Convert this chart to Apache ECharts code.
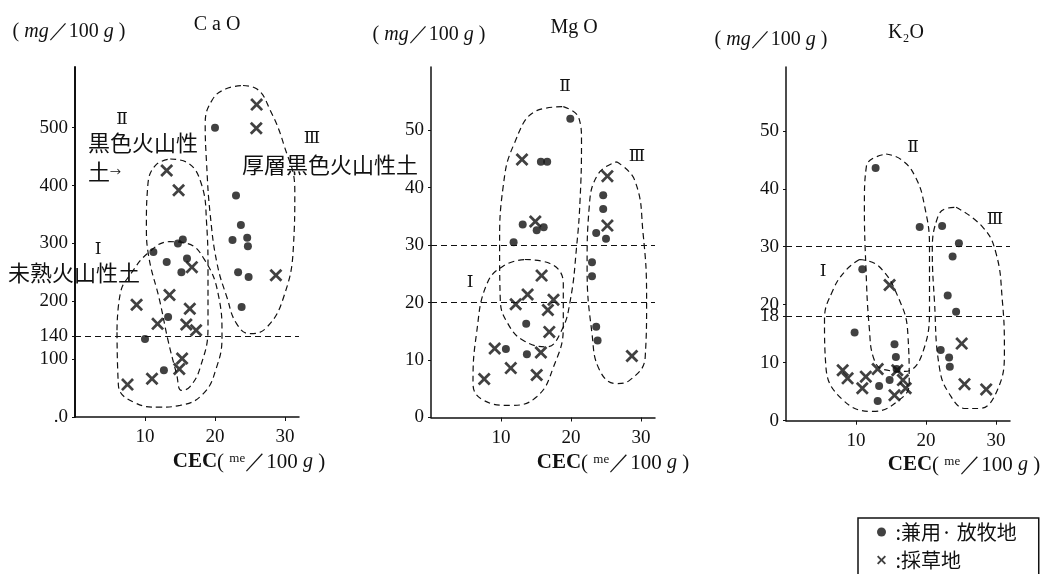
<!DOCTYPE html>
<html><head><meta charset="utf-8">
<script src="https://cdn.jsdelivr.net/npm/echarts@6/dist/echarts.min.js"></script>
<style>html,body{margin:0;padding:0;background:#fff}#c{width:1043px;height:574px}</style>
</head><body><div id="c"></div>
<script>
// ---- tick labels ----
const cecTicks = [10, 20, 30];
const caoTicks = [0, 100, 140, 200, 300, 400, 500];
const mgoTicks = [0, 10, 20, 30, 40, 50];
const k2oTicks = [0, 10, 18, 20, 30, 40, 50];
const caoRefLines = [140];
const mgoRefLines = [20, 30];
const k2oRefLines = [18, 30];

// ---- CaO (x: CEC, y: mg/100g) ----
const caoDots = [[20,500],[23,383],[23.7,332],[22.5,306],[24.6,310],[24.7,295],[23.3,250],[24.8,242],[23.8,190],
  [15.4,307],[14.7,300],[11.2,285],[13.1,268],[16,274],[15.2,250],[13.3,173],[10,135],[12.7,81]];
const caoCross = [[25.95,540],[25.9,499],[28.7,245],[13.1,426],[14.8,392],[16.7,259],[13.5,211],[8.8,194],[16.4,187],
  [11.8,161],[15.9,160],[17.3,150],[15.3,101],[14.9,83],[11.0,66],[7.5,56]];
const caoRegionI = [[6,150],[6.5,215],[8,248],[10.5,284],[13.5,303],[16,300],[18.5,272],[20.5,210],[21,140],[20.2,85],
  [18.3,40],[15,20],[12,17],[8.5,25],[6.2,55],[6,150]];
const caoRegionII = [[13.6,446],[16,440],[18,405],[18.8,335],[19,250],[19,155],[17.9,86],[16.4,52],[15.2,46],[14.5,75],
  [13.3,132],[12.1,201],[10.5,280],[10.2,330],[10.4,400],[11.5,435],[13.6,446]];
const caoRegionIII = [[24,573],[26,567],[27.9,530],[29.8,472],[31.4,392],[31.2,294],[29.8,207],[27.4,155],[25,144],
  [23.1,161],[21.7,207],[20.3,265],[19.3,352],[18.8,438],[18.6,507],[19.6,548],[21.5,567],[24,573]];

// ---- MgO ----
const mgoDots = [[19.9,52],[15.7,44.5],[16.6,44.5],[13.1,33.6],[15.1,32.6],[16.1,33.1],[11.8,30.5],[13.6,16.3],[10.7,11.9],
  [13.7,11],[24.6,38.7],[24.6,36.3],[23.6,32.1],[25,31.1],[23,27],[23,24.6],[23.6,15.8],[23.8,13.4]];
const mgoCross = [[13,44.9],[14.9,34.1],[25.2,42],[25.2,33.4],[28.7,10.7],[15.8,24.7],[13.8,21.4],[12.1,19.7],[17.5,20.5],
  [16.7,18.7],[16.9,14.9],[15.7,11.3],[9.1,12],[11.4,8.6],[15.1,7.4],[7.6,6.7]];
const mgoRegionI = [[13.4,27.5],[17,26.8],[18.9,23.3],[18.9,15.8],[17.5,8.8],[15.1,3.6],[11.3,2.1],[7.5,3],[6,5.9],
  [6.5,14.6],[8,23.3],[10.5,26.5],[13.4,27.5]];
const mgoRegionII = [[18.9,54.1],[21.1,52.2],[21.5,48],[21.3,38],[20.8,29.7],[19.9,20.4],[18.6,15],[16.5,12.3],[13.2,13.4],
  [11,16.3],[9.9,20.4],[9.8,29.7],[10.3,40.1],[11.8,47.4],[15.1,53.4],[18.9,54.1]];
const mgoRegionIII = [[26.5,44.5],[29.1,41.3],[30.3,32],[30.8,20.4],[30.6,10.5],[28.4,6.5],[26.5,5.9],[24.1,8.2],[23,14.6],
  [22.3,26.2],[22.6,36.6],[23.9,42.4],[26.5,44.5]];

// ---- K2O ----
const k2oDots = [[12.8,43.6],[19.1,33.4],[22.3,33.6],[24.7,30.6],[23.8,28.3],[23.1,21.6],[24.3,18.8],[22.1,12.2],[23.3,10.9],
  [23.4,9.3],[10.9,26.1],[9.8,15.2],[15.5,13.2],[15.7,11],[15.8,8.9],[14.8,7],[13.3,6],[13.1,3.4]];
const k2oCross = [[14.8,23.4],[25.1,13.3],[25.5,6.3],[28.6,5.4],[8.1,8.7],[8.8,7.3],[11.4,7.6],[10.9,5.6],[13.1,8.9],
  [15.9,8.7],[16.7,7.0],[17.1,5.6],[15.5,4.4]];
const k2oRegionI = [[10.5,27.8],[13.3,26.6],[16.2,20.8],[17.4,15.1],[17.6,6.4],[16.2,3.6],[12.4,1.6],[8.1,3.6],[5.7,9.3],
  [5.5,17.4],[6.7,22.5],[8.6,26],[10.5,27.8]];
const k2oRegionII = [[14.3,46],[16.5,45],[18.5,42],[19.8,37],[20.5,30],[20.5,20],[19.6,12],[17,8.5],[14,8.8],[12.6,10.5],
  [11.9,16],[11.4,27],[11.2,37],[11.5,44],[14.3,46]];
const k2oRegionIII = [[24.3,36.8],[28.1,33.4],[30,28.9],[30.9,20.8],[31.2,12.2],[30.2,5.3],[27.6,2.1],[25.7,2.1],[23.3,4.7],
  [21.9,9.3],[21.2,20.8],[20.9,29.4],[21.7,35.2],[22.9,36.6],[24.3,36.8]];

const nameDot = '兼用· 放牧地';
const nameCross = '採草地';
const crossPath = 'path://M3,0 L10,7 L17,0 L20,3 L13,10 L20,17 L17,20 L10,13 L3,20 L0,17 L7,10 L0,3 Z';
const serif = 'Liberation Serif';
const roman = '"DejaVu Serif", "Liberation Serif", serif';
const cjk = 'Noto Sans CJK JP';
const ink = '#111';

const panels = [
  {dots: caoDots, cross: caoCross, regions: [caoRegionI, caoRegionII, caoRegionIII], ticks: caoTicks, refs: caoRefLines,
   grid: {left: 75, top: 67, width: 224, height: 350}, ymax: 605, zeroLabel: '.0', yw: 2},
  {dots: mgoDots, cross: mgoCross, regions: [mgoRegionI, mgoRegionII, mgoRegionIII], ticks: mgoTicks, refs: mgoRefLines,
   grid: {left: 431, top: 67, width: 224, height: 350.5}, ymax: 61, zeroLabel: '0', yw: 1.5},
  {dots: k2oDots, cross: k2oCross, regions: [k2oRegionI, k2oRegionII, k2oRegionIII], ticks: k2oTicks, refs: k2oRefLines,
   grid: {left: 786, top: 67, width: 224, height: 353.7}, ymax: 61, zeroLabel: '0', yw: 1.5}
];

const grid = [], xAxis = [], yAxis = [], series = [];
panels.forEach((p, i) => {
  grid.push(p.grid);
  xAxis.push({gridIndex: i, type: 'value', min: 0, max: 32,
    axisLine: {lineStyle: {color: ink, width: 1.5}},
    axisTick: {customValues: cecTicks, length: 4, lineStyle: {color: ink}},
    axisLabel: {customValues: cecTicks, margin: 11, color: ink, fontFamily: serif, fontSize: 19},
    splitLine: {show: false}});
  yAxis.push({gridIndex: i, type: 'value', min: 0, max: p.ymax,
    axisLine: {show: true, lineStyle: {color: ink, width: p.yw}},
    axisTick: {show: true, customValues: p.ticks, length: 3, lineStyle: {color: ink}},
    axisLabel: {customValues: p.ticks, margin: 7, color: ink, fontFamily: serif, fontSize: 19,
      formatter: v => v === 0 ? p.zeroLabel : String(v)},
    splitLine: {show: false}});
  p.regions.forEach(r => series.push({type: 'line', xAxisIndex: i, yAxisIndex: i, data: r, smooth: 0.45,
    symbol: 'none', silent: true, lineStyle: {color: ink, width: 1.2, type: [6, 4]}, z: 1}));
  series.push({type: 'scatter', name: nameDot, xAxisIndex: i, yAxisIndex: i, data: p.dots, symbol: 'circle',
    symbolSize: 8, itemStyle: {color: ink}, z: 3,
    markLine: {silent: true, symbol: 'none', label: {show: false},
      lineStyle: {color: ink, width: 1.2, type: [6, 4]}, data: p.refs.map(v => ({yAxis: v}))}});
  series.push({type: 'scatter', name: nameCross, xAxisIndex: i, yAxisIndex: i, data: p.cross, symbol: crossPath,
    symbolSize: 13, itemStyle: {color: ink}, z: 3});
});

function txt(x, y, text, font, extra) {
  return {type: 'text', x: x, y: y, style: Object.assign({text: text, font: font, fill: ink,
    align: 'center', verticalAlign: 'middle'}, extra || {})};
}
const rich = {
  i: {fontStyle: 'italic', fontFamily: serif, fontSize: 20, fill: ink},
  b: {fontFamily: serif, fontSize: 21, fontWeight: 'bold', fill: ink},
  s: {fontFamily: serif, fontSize: 13, fill: ink, padding: [0, 0, 7, 0]},
  a: {fontSize: 11, fontFamily: cjk, fill: ink}
};
const unitText = '( {i|mg}／100 {i|g} )';
const cecText = '{b|CEC}( {s|me}／100 {i|g} )';
const graphic = [
  txt(217, 25, 'C a O', '20px ' + serif), txt(574, 28, 'Mg O', '20px ' + serif), txt(906, 33, 'K₂O', '20px ' + serif),
  txt(69, 32, unitText, '20px ' + serif, {rich}), txt(429, 35, unitText, '20px ' + serif, {rich}),
  txt(771, 40, unitText, '20px ' + serif, {rich}),
  txt(249, 462, cecText, '21px ' + serif, {rich}), txt(613, 463, cecText, '21px ' + serif, {rich}),
  txt(964, 465, cecText, '21px ' + serif, {rich}),
  txt(122, 120, 'Ⅱ', '17px ' + roman), txt(312, 139, 'Ⅲ', '17px ' + roman), txt(98, 250, 'Ⅰ', '17px ' + roman),
  txt(88, 143, '黒色火山性', '22px ' + cjk, {align: 'left'}),
  txt(88, 172, '土{a|→}', '22px ' + cjk, {align: 'left', rich}),
  txt(242, 165, '厚層黒色火山性土', '22px ' + cjk, {align: 'left'}),
  txt(8, 273, '未熟火山性土', '22px ' + cjk, {align: 'left'}),
  txt(565, 87, 'Ⅱ', '17px ' + roman), txt(470, 283, 'Ⅰ', '17px ' + roman), txt(637, 157, 'Ⅲ', '17px ' + roman),
  txt(913, 148, 'Ⅱ', '17px ' + roman), txt(823, 272, 'Ⅰ', '17px ' + roman), txt(995, 220, 'Ⅲ', '17px ' + roman)
];

const chart = echarts.init(document.getElementById('c'), null, {renderer: 'canvas'});
chart.setOption({
  backgroundColor: '#fff',
  animation: false,
  grid, xAxis, yAxis, series, graphic,
  legend: {left: 858, top: 518, height: 100, orient: 'vertical', selectedMode: false,
    data: [{name: nameDot, icon: 'circle'}, {name: nameCross, icon: crossPath}],
    itemWidth: 9, itemHeight: 9, itemGap: 8, padding: [4, 22, 20, 19],
    borderColor: ink, borderWidth: 1.5,
    formatter: n => ' :' + n,
    textStyle: {color: ink, fontFamily: cjk, fontSize: 20}}
});
</script></body></html>
